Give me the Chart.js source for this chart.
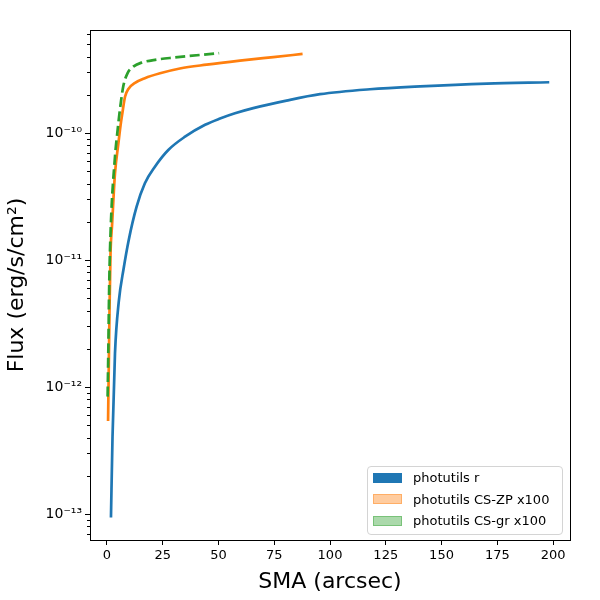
<!DOCTYPE html>
<html>
<head>
<meta charset="utf-8">
<script src="https://cdn.jsdelivr.net/npm/chart.js@4/dist/chart.umd.min.js"></script>
<style>
  html, body { margin: 0; padding: 0; background: #fff; }
  #wrap { position: relative; width: 600px; height: 600px; }
  #legend {
    position: absolute; left: 367px; top: 466px; width: 196px; height: 69px;
    border: 1px solid #d4d4d4; border-radius: 4px; background: rgba(255,255,255,0.8);
    font-family: "DejaVu Sans", sans-serif; font-size: 13px; color: #000;
    box-sizing: border-box; padding: 0 0 0 5px;
  }
  .row { display: flex; align-items: center; height: 21.5px; }
  .sw { width: 29px; height: 10px; margin-right: 11px; box-sizing: border-box; }
</style>
</head>
<body>
<div id="wrap">
  <canvas id="chart" width="600" height="600"></canvas>
  <div id="legend"></div>
</div>
<script>
// photutils r
const smaR = [1.8, 2.5, 3.6, 5.3, 7.5, 9.7, 13.3, 17, 21.5, 27.5, 35, 44, 50.7, 57.4, 65.6, 80.5, 95.5, 117.9, 140.4, 170.3, 198.3];
const fluxR = [9.4e-14, 4.1e-13, 1.84e-12, 4.7e-12, 8.6e-12, 1.42e-11, 2.63e-11, 4.02e-11, 5.43e-11, 7.35e-11, 9.35e-11, 1.16e-10,
  1.3e-10, 1.43e-10, 1.57e-10, 1.8e-10, 2.02e-10, 2.21e-10, 2.33e-10, 2.45e-10, 2.51e-10];

// photutils CS-ZP x100
const smaZP = [0.5, 0.9, 1.2, 1.6, 2.3, 3.6, 5.1, 6.1, 6.9, 8.1, 9.6, 12.6, 17, 23.8, 32.7, 44.7, 59.6, 74.6, 87.7];
const fluxZP = [5.4e-13, 1.85e-12, 4.6e-12, 1.13e-11, 1.9e-11, 4.8e-11, 8.2e-11, 1.15e-10, 1.43e-10, 1.93e-10, 2.22e-10, 2.48e-10,
  2.7e-10, 2.95e-10, 3.22e-10, 3.45e-10, 3.71e-10, 3.96e-10, 4.19e-10];

// photutils CS-gr x100
const smaGR = [0.3, 0.6, 1.0, 1.7, 3.6, 4.8, 5.8, 7.3, 9.2, 11.8, 15.5, 22.2, 29.7, 50.3];
const fluxGR = [8.4e-13, 1.85e-12, 6.2e-12, 1.8e-11, 6.5e-11, 1.06e-10, 1.52e-10, 2.32e-10, 2.95e-10, 3.33e-10, 3.58e-10,
  3.78e-10, 3.92e-10, 4.25e-10];

const seriesLabels = ['photutils r', 'photutils CS-ZP x100', 'photutils CS-gr x100'];
const seriesColors = ['#1f77b4', '#ff7f0e', '#2ca02c'];
const legendFills = ['#1f77b4', 'rgba(255,127,14,0.4)', 'rgba(44,160,44,0.4)'];

const xTicks = [0, 25, 50, 75, 100, 125, 150, 175, 200];
const yMajor = [1e-13, 1e-12, 1e-11, 1e-10];
const yMajorLabels = ['10⁻¹³', '10⁻¹²', '10⁻¹¹', '10⁻¹⁰'];

const FONT = '"DejaVu Sans", sans-serif';

function toPoints(xs, ys) {
  return xs.map((x, i) => ({x, y: ys[i]}));
}

function isMajor(v) {
  return yMajor.some(m => Math.abs(v / m - 1) < 1e-6);
}

// all log ticks (1..9 x 10^n) inside the range
function logTicks(min, max) {
  const out = [];
  for (let e = -15; e <= -8; e++) {
    for (let m = 1; m <= 9; m++) {
      const v = m * Math.pow(10, e);
      if (v >= min && v <= max) out.push({value: v, major: m === 1});
    }
  }
  return out;
}

// top/right spines and y tick marks (major longer than minor)
const framePlugin = {
  id: 'frame',
  afterDraw(chart) {
    const {ctx, chartArea: a} = chart;
    const y = chart.scales.y;
    ctx.save();
    ctx.strokeStyle = '#000';
    ctx.lineWidth = 1;
    ctx.strokeRect(a.left + 0.5, a.top + 0.5, a.right - a.left, a.bottom - a.top);
    y.ticks.forEach(t => {
      const py = Math.round(y.getPixelForValue(t.value)) + 0.5;
      const len = isMajor(t.value) ? 5 : 3;
      ctx.beginPath();
      ctx.moveTo(a.left - len, py);
      ctx.lineTo(a.left, py);
      ctx.stroke();
    });
    ctx.restore();
  }
};

const ctx = document.getElementById('chart');
new Chart(ctx, {
  type: 'scatter',
  data: {
    datasets: [
      {label: seriesLabels[0], data: toPoints(smaR, fluxR), order: 2},
      {label: seriesLabels[1], data: toPoints(smaZP, fluxZP), order: 1},
      {label: seriesLabels[2], data: toPoints(smaGR, fluxGR), order: 0, borderDash: [10, 4.5]}
    ].map((d, i) => Object.assign({
      showLine: true,
      borderColor: seriesColors[i],
      backgroundColor: seriesColors[i],
      borderWidth: 2.7,
      pointRadius: 0,
      fill: false,
      cubicInterpolationMode: 'monotone'
    }, d))
  },
  options: {
    responsive: false,
    animation: false,
    layout: {padding: {top: 30, right: 30, left: 0, bottom: 0}},
    plugins: {legend: {display: false}, tooltip: {enabled: false}},
    scales: {
      x: {
        type: 'linear', min: -7.6, max: 207.6,
        afterBuildTicks: s => { s.ticks = xTicks.map(v => ({value: v})); },
        afterFit: s => { s.height = 60; },
        grid: {drawOnChartArea: false, drawTicks: true, tickLength: 5, color: '#000'},
        border: {color: '#000', width: 1},
        ticks: {color: '#000', font: {family: FONT, size: 13}, padding: 3, maxRotation: 0, autoSkip: false},
        title: {display: true, text: 'SMA (arcsec)', color: '#000', font: {family: FONT, size: 22}, padding: {top: 2, bottom: 5}}
      },
      y: {
        type: 'logarithmic', min: 6.24e-14, max: 6.47e-10,
        afterBuildTicks: s => { s.ticks = logTicks(s.min, s.max); },
        afterFit: s => { s.width = 90; },
        grid: {drawOnChartArea: false, drawTicks: true, tickLength: 5, tickColor: 'rgba(0,0,0,0)', color: '#000'},
        border: {color: '#000', width: 1},
        ticks: {
          color: '#000', font: {family: FONT, size: 14}, padding: 3, autoSkip: false,
          callback: v => {
            const i = yMajor.findIndex(m => Math.abs(v / m - 1) < 1e-6);
            return i >= 0 ? yMajorLabels[i] : '';
          }
        },
        title: {display: true, text: 'Flux (erg/s/cm²)', color: '#000', font: {family: FONT, size: 22}, padding: {top: 4, bottom: 2}}
      }
    }
  },
  plugins: [framePlugin]
});

const legend = document.getElementById('legend');
seriesLabels.forEach((label, i) => {
  const row = document.createElement('div');
  row.className = 'row';
  const sw = document.createElement('span');
  sw.className = 'sw';
  sw.style.background = legendFills[i];
  if (i > 0) sw.style.border = '1px solid ' + legendFills[i];
  const txt = document.createElement('span');
  txt.textContent = label;
  row.appendChild(sw);
  row.appendChild(txt);
  legend.appendChild(row);
});
</script>
</body>
</html>
